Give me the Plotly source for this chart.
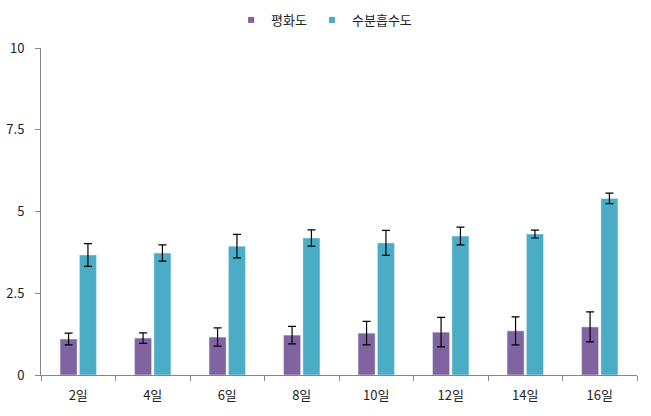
import plotly.graph_objects as go

categories = ["2일", "4일", "6일", "8일", "10일", "12일", "14일", "16일"]
flat = [1.10, 1.13, 1.16, 1.22, 1.28, 1.31, 1.35, 1.47]
flat_err = [0.18, 0.16, 0.28, 0.27, 0.36, 0.45, 0.43, 0.46]
absorb = [3.67, 3.73, 3.94, 4.19, 4.04, 4.25, 4.31, 5.40]
absorb_err = [0.35, 0.25, 0.36, 0.25, 0.38, 0.27, 0.12, 0.16]
yticks = [0, 2.5, 5, 7.5, 10]
ytick_text = ["0", "2.5", "5", "7.5", "10"]
names = ["평화도", "수분흡수도"]
colors = ["#8064A2", "#4BACC6"]

font = "Noto Sans CJK KR"
fig = go.Figure()
for name, vals, errs, col in zip(names, [flat, absorb], [flat_err, absorb_err], colors):
    fig.add_trace(go.Bar(name=name, x=categories, y=vals, marker_color=col, showlegend=False,
                         error_y=dict(type="data", array=errs, color="black", thickness=1.2, width=4)))
for name, col in zip(names, colors):
    fig.add_trace(go.Scatter(name=name, x=[None], y=[None], mode="markers",
                             marker=dict(symbol="square", size=6, color=col)))

fig.update_layout(
    width=651, height=416,
    margin=dict(l=41, r=14, t=48, b=41, autoexpand=False),
    paper_bgcolor="white", plot_bgcolor="white",
    barmode="group", bargap=0.48, bargroupgap=0.12,
    font=dict(family=font, size=12, color="#222"),
    legend=dict(orientation="h", x=0.475, xanchor="center", y=0.952, yanchor="middle",
                yref="container", font=dict(size=13), itemwidth=30, tracegroupgap=0),
    showlegend=True,
)
fig.update_xaxes(showline=True, linecolor="#868686", linewidth=1, ticks="outside",
                 tickson="boundaries", ticklen=5, tickcolor="#868686", showgrid=False,
                 tickfont=dict(size=13), ticklabelstandoff=8, automargin=False)
fig.update_yaxes(range=[0, 10], tickvals=yticks, ticktext=ytick_text, showline=True,
                 linecolor="#868686", linewidth=1, ticks="outside", ticklen=5,
                 tickcolor="#868686", showgrid=False, zeroline=False, tickfont=dict(size=13),
                 ticklabelstandoff=8, automargin=False)

fig.write_html("out.html")
